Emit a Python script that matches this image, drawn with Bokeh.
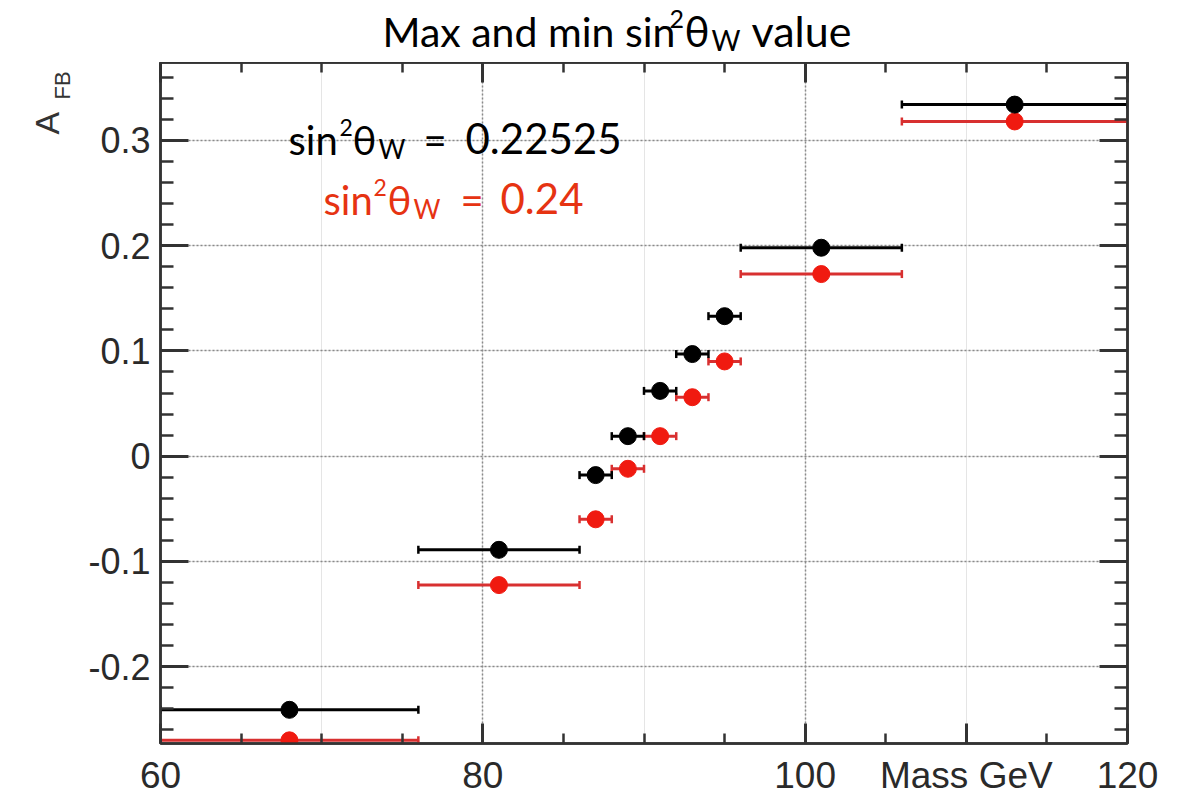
import math
from bokeh.plotting import figure
from bokeh.layouts import column, row
from bokeh.models import (Range1d, SingleIntervalTicker, FixedTicker, LinearAxis, Label,
                          CustomJSTickFormatter, ColumnDataSource, Grid)
from bokeh.embed import file_html
from bokeh.resources import INLINE

# ---- data ----
bin_lo = [60, 76, 86, 88, 90, 92, 94, 96, 106]
bin_hi = [76, 86, 88, 90, 92, 94, 96, 106, 120]
bin_center = [68, 81, 87, 89, 91, 93, 95, 101, 113]
afb_s022525 = [-0.241, -0.089, -0.018, 0.019, 0.062, 0.097, 0.133, 0.198, 0.334]
afb_s024 = [-0.270, -0.1225, -0.060, -0.012, 0.019, 0.056, 0.090, 0.173, 0.318]
x_ticks = [60, 80, 100, 120]
x_minor_ticks = [65, 70, 75, 85, 90, 95, 105, 110, 115]
x_title_tick = 110          # the x-axis title sits under this position
x_title = "Mass GeV"
y_major_step = 0.1

AXIS_COL = "#333333"
RED_PT = "#f01a10"
RED_BAR = "#d83030"
TEXT_RED = "#e63312"
SHIFT = 0.42   # empirical baseline correction (fraction of font size)

def text_fig(w, h):
    f = figure(width=w, height=h, output_backend="svg", toolbar_location=None,
               x_range=Range1d(0, 1), y_range=Range1d(0, 1),
               x_axis_location=None, y_axis_location=None,
               min_border=0, min_border_left=0, min_border_right=0,
               min_border_top=0, min_border_bottom=0)
    f.outline_line_color = None
    f.background_fill_color = "white"
    f.border_fill_color = "white"
    f.grid.visible = False
    return f

def txt(fig, x, y, s, size, color="black", font="Lato", angle=0.0):
    if angle == 0.0:
        y = y + SHIFT * size
    else:
        x = x - SHIFT * size
    fig.add_layout(Label(x=x, y=y, x_units="screen", y_units="screen", text=s,
                         text_font=font, text_font_size=f"{size}px", text_color=color,
                         text_align="left", text_baseline="alphabetic", angle=angle))

# ---------------- title strip ----------------
tf = text_fig(1195, 62)
txt(tf, 382, 14, "Max and min sin", 41)
txt(tf, 669, 33, "2", 25)
txt(tf, 684, 14, "θ", 42)
txt(tf, 711, 11, "W", 28)
txt(tf, 751, 14, "value", 43)

# ---------------- left strip (y-axis title) ----------------
lf = text_fig(80, 736)
txt(lf, 61, 609, "A", 34, AXIS_COL, "Liberation Sans", math.pi/2)
txt(lf, 71, 644, "FB", 22, AXIS_COL, "Liberation Sans", math.pi/2)

# ---------------- main plot ----------------
p = figure(width=1115, height=736, output_backend="svg", toolbar_location=None,
           x_range=Range1d(60, 120), y_range=Range1d(-0.273, 0.374),
           min_border_left=80, min_border_right=68, min_border_top=0,
           min_border_bottom=54, x_axis_location=None, y_axis_location=None)
p.background_fill_color = "white"
p.border_fill_color = "white"
p.outline_line_color = AXIS_COL
p.outline_line_width = 2.5

xt = FixedTicker(ticks=x_ticks, minor_ticks=x_minor_ticks)
xt_b = FixedTicker(ticks=x_ticks + [x_title_tick], minor_ticks=x_minor_ticks)
yt = SingleIntervalTicker(interval=y_major_step, num_minor_ticks=5)
yfmt = CustomJSTickFormatter(code="""
const v = Math.round(tick*10)/10;
return (v === 0) ? "0" : v.toFixed(1);
""")

def style_axis(ax, major_len, minor_len, labels=True, fsize="36px"):
    ax.axis_line_color = AXIS_COL
    ax.axis_line_width = 2.5
    ax.major_tick_in = major_len
    ax.major_tick_out = 0
    ax.minor_tick_in = minor_len
    ax.minor_tick_out = 0
    ax.major_tick_line_color = AXIS_COL
    ax.major_tick_line_width = 3
    ax.minor_tick_line_color = AXIS_COL
    ax.minor_tick_line_width = 2.5
    if labels:
        ax.major_label_text_font = "Liberation Sans"
        ax.major_label_text_font_size = fsize
        ax.major_label_text_color = "#2a2a2a"
    else:
        ax.major_label_text_font_size = "0px"
        ax.major_label_text_color = None
        ax.major_label_standoff = 0

xb = LinearAxis(ticker=xt_b)
style_axis(xb, 20, 10, True, "37px")
xb.major_label_standoff = 11
xb.major_label_overrides = {x_title_tick: x_title}
p.add_layout(xb, "below")

xa = LinearAxis(ticker=xt)
style_axis(xa, 20, 10, False)
p.add_layout(xa, "above")

yl = LinearAxis(ticker=yt, formatter=yfmt)
style_axis(yl, 28, 13, True, "36px")
yl.major_label_standoff = 10
p.add_layout(yl, "left")

yr = LinearAxis(ticker=yt)
style_axis(yr, 28, 13, False)
p.add_layout(yr, "right")

gx = Grid(dimension=0, ticker=xt, grid_line_color="#8a8a8a", grid_line_width=1.5,
          grid_line_dash="2 2")
gy = Grid(dimension=1, ticker=yt, grid_line_color="#8a8a8a", grid_line_width=1.5,
          grid_line_dash="2 2")
p.add_layout(gx)
p.add_layout(gy)

src = ColumnDataSource(dict(lo=bin_lo, hi=bin_hi, xc=bin_center,
                            yb=afb_s022525, yr=afb_s024))

# red series (sin^2 = 0.24)
p.segment(x0="lo", x1="hi", y0="yr", y1="yr", source=src, line_color=RED_BAR, line_width=3)
p.scatter(x="lo", y="yr", source=src, marker="dash", angle=math.pi/2, size=8,
          line_color=RED_BAR, line_width=2.5)
p.scatter(x="hi", y="yr", source=src, marker="dash", angle=math.pi/2, size=8,
          line_color=RED_BAR, line_width=2.5)
p.scatter(x="xc", y="yr", source=src, marker="circle", size=17, fill_color=RED_PT,
          line_color=RED_PT)

# black series (sin^2 = 0.22525)
p.segment(x0="lo", x1="hi", y0="yb", y1="yb", source=src, line_color="black", line_width=3)
p.scatter(x="lo", y="yb", source=src, marker="dash", angle=math.pi/2, size=8,
          line_color="black", line_width=2.5)
p.scatter(x="hi", y="yb", source=src, marker="dash", angle=math.pi/2, size=8,
          line_color="black", line_width=2.5)
p.scatter(x="xc", y="yb", source=src, marker="circle", size=17, fill_color="black",
          line_color="black")

# in-frame annotations (screen units from the frame's bottom-left)
txt(p, 128, 587, "sin", 40)
txt(p, 179, 606, "2", 23)
txt(p, 192, 587, "θ", 40)
txt(p, 218, 584, "W", 26)
txt(p, 263, 587, "=", 40)
txt(p, 305, 587, "0.22525", 42)

txt(p, 163, 527, "sin", 40, TEXT_RED)
txt(p, 213, 546, "2", 23, TEXT_RED)
txt(p, 227, 527, "θ", 40, TEXT_RED)
txt(p, 253, 524, "W", 26, TEXT_RED)
txt(p, 300, 527, "=", 40, TEXT_RED)
txt(p, 340, 527, "0.24", 42, TEXT_RED)

layout = column(tf, row(lf, p, spacing=0), spacing=0)
open("out.html", "w").write(file_html(layout, INLINE))
